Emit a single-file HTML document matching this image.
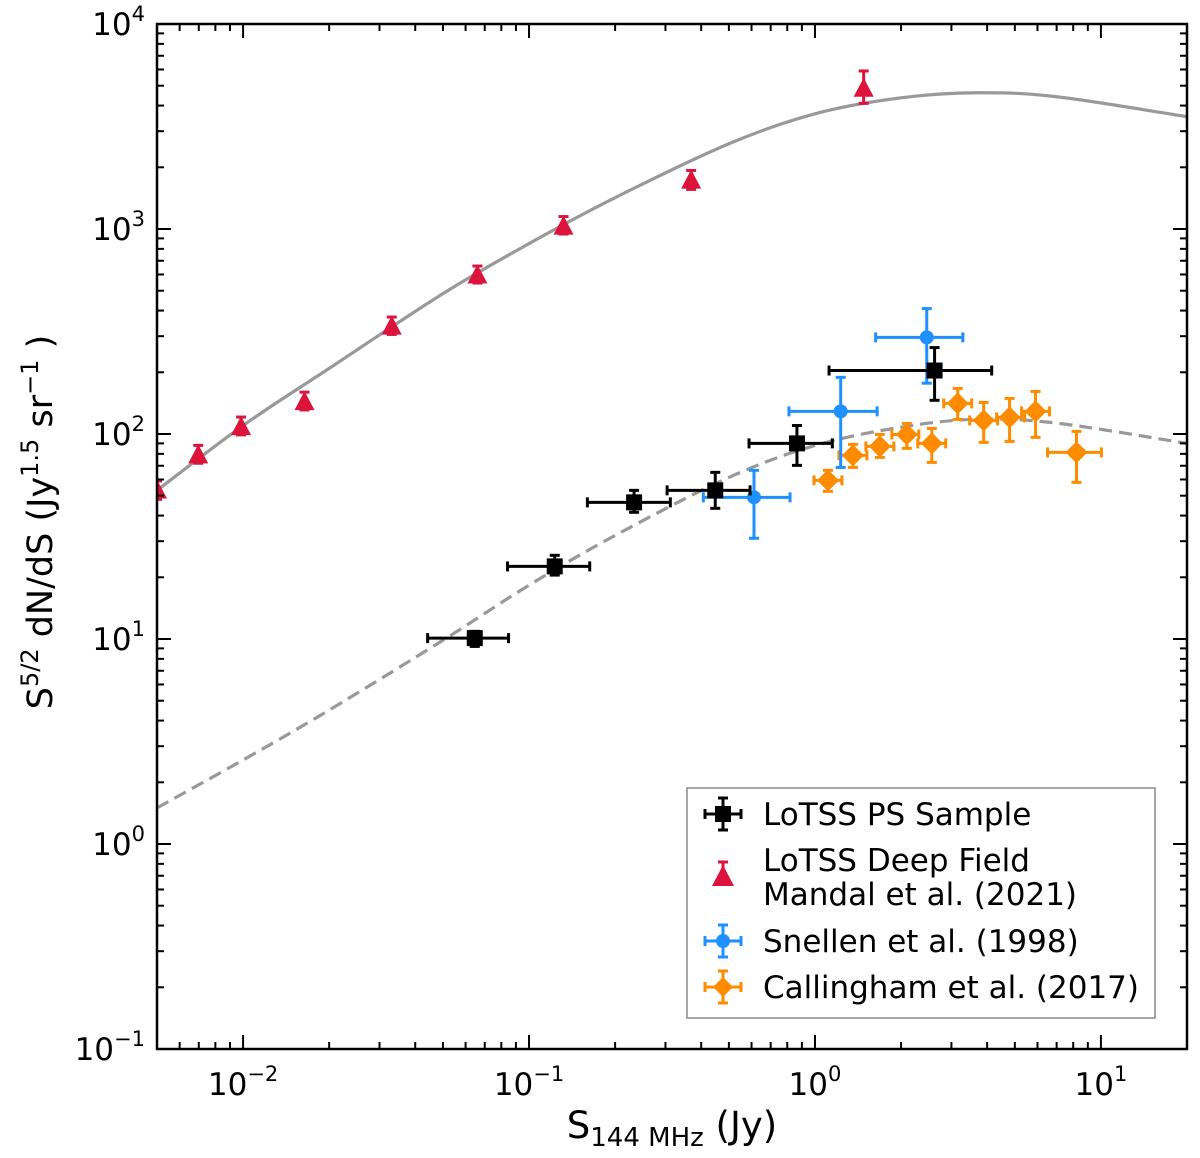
<!DOCTYPE html>
<html><head><meta charset="utf-8">
<style>
html,body{margin:0;padding:0;background:#fff;}
svg{display:block;font-family:"DejaVu Sans","Liberation Sans",sans-serif;}
</style></head>
<body>
<svg id="chart" width="1200" height="1158" viewBox="0 0 1200 1158">
<rect x="0" y="0" width="1200" height="1158" fill="#fff"/>
<g id="plot"></g>
</svg>
<script>
// ---- data ----
const xTickVals = [0.01, 0.1, 1, 10];
const xTickExps = ["−2", "−1", "0", "1"];
const yTickVals = [0.1, 1, 10, 100, 1000, 10000];
const yTickExps = ["−1", "0", "1", "2", "3", "4"];

const solidX = [0.005,0.01,0.02,0.05,0.1,0.2,0.5,1,2,3.7,7,20];
const solidY = [53.1,110,209,484,849,1422,2606,3648,4365,4620,4416,3532];
const dashX = [0.005,0.01,0.02,0.05,0.1,0.2,0.5,1,2,3.7,7,20];
const dashY = [1.50,2.57,4.50,9.86,18.3,32.0,61.4,87.9,108,118,113,90];

const psX = [0.0646,0.123,0.233,0.448,0.865,2.62];
const psY = [10.1,22.6,46.4,53.1,90,204];
const psXlo = [0.0442,0.0841,0.160,0.304,0.588,1.12];
const psXhi = [0.0848,0.163,0.312,0.593,1.15,4.15];
const psYlo = [9.2,20.5,41.5,43.4,70.3,146];
const psYhi = [10.9,25.6,53.1,65,110,264];

const dfX = [0.005,0.00697,0.00984,0.0164,0.0331,0.066,0.132,0.369,1.48];
const dfY = [53,78.7,108,143,334,593,1027,1722,4830];
const dfYlo = [48,72,99,131,306,545,945,1560,4100];
const dfYhi = [59,88,121,160,372,660,1150,1930,5900];

const snX = [0.612,1.23,2.46];
const snY = [49.1,129,296];
const snXlo = [0.407,0.811,1.63];
const snXhi = [0.818,1.65,3.29];
const snYlo = [31,68.7,177];
const snYhi = [66.5,189,409];

const caX = [1.110,1.357,1.686,2.095,2.562,3.156,3.890,4.793,5.907,8.214];
const caY = [59.4,78.7,87.0,99.5,90.0,141,116.5,120.5,128.9,81.3];
const caXlo = [0.992,1.213,1.507,1.857,2.288,2.820,3.475,4.318,5.279,6.506];
const caXhi = [1.242,1.519,1.887,2.307,2.866,3.532,4.352,5.408,6.611,10.04];
const caYlo = [52.5,68.7,76.9,85.1,72.7,117.8,91.0,92.0,96.3,58.1];
const caYhi = [66.5,89.0,99.5,112.6,106.5,166.8,142.6,149.1,161.3,103];

// ---- axes ----
const L=157,R=1187,T=24,B=1049;
const XMIN=Math.log10(0.005),XMAX=Math.log10(20),YMIN=-1,YMAX=4;
function sx(v){return L+(Math.log10(v)-XMIN)/(XMAX-XMIN)*(R-L);}
function sy(v){return B-(Math.log10(v)-YMIN)/(YMAX-YMIN)*(B-T);}
const NS="http://www.w3.org/2000/svg";
const plot=document.getElementById('plot');
function mk(tag,attrs,parent){const e=document.createElementNS(NS,tag);for(const k in attrs)e.setAttribute(k,attrs[k]);(parent||plot).appendChild(e);return e;}

const clip=mk('clipPath',{id:'clipA'});mk('rect',{x:L,y:T,width:R-L,height:B-T},clip);

function smooth(xs,ys){
  const p=xs.map((x,i)=>[sx(x),sy(ys[i])]);
  let d='M'+p[0][0]+','+p[0][1];
  for(let i=0;i<p.length-1;i++){
    const p0=p[Math.max(0,i-1)],p1=p[i],p2=p[i+1],p3=p[Math.min(p.length-1,i+2)];
    const c1=[p1[0]+(p2[0]-p0[0])/6,p1[1]+(p2[1]-p0[1])/6];
    const c2=[p2[0]-(p3[0]-p1[0])/6,p2[1]-(p3[1]-p1[1])/6];
    d+=' C'+c1[0]+','+c1[1]+' '+c2[0]+','+c2[1]+' '+p2[0]+','+p2[1];
  }
  return d;
}
const cg=mk('g',{'clip-path':'url(#clipA)'});
const solid=mk('path',{d:smooth(solidX,solidY),fill:'none',stroke:'#999',"stroke-width":3.2},cg);


const dash=mk('path',{d:smooth(dashX,dashY),fill:'none',stroke:'#999',"stroke-width":3.2,"stroke-dasharray":"13,7"},cg);



function errbar(g,x,y,xlo,xhi,ylo,yhi,col){
  const px=sx(x),py=sy(y);
  if(xlo!=null){mk('line',{x1:sx(xlo),x2:sx(xhi),y1:py,y2:py,stroke:col,"stroke-width":3},g);
    mk('line',{x1:sx(xlo),x2:sx(xlo),y1:py-5,y2:py+5,stroke:col,"stroke-width":3},g);
    mk('line',{x1:sx(xhi),x2:sx(xhi),y1:py-5,y2:py+5,stroke:col,"stroke-width":3},g);}
  mk('line',{x1:px,x2:px,y1:sy(ylo),y2:sy(yhi),stroke:col,"stroke-width":3},g);
  mk('line',{x1:px-5,x2:px+5,y1:sy(ylo),y2:sy(ylo),stroke:col,"stroke-width":3},g);
  mk('line',{x1:px-5,x2:px+5,y1:sy(yhi),y2:sy(yhi),stroke:col,"stroke-width":3},g);
}
function marker(g,shape,px,py,col){
  if(shape==='sq')return mk('rect',{x:px-8,y:py-8,width:16,height:16,fill:col},g);
  if(shape==='tri')return mk('polygon',{points:`${px},${py-11} ${px-10},${py+8} ${px+10},${py+8}`,fill:col},g);
  if(shape==='circ')return mk('circle',{cx:px,cy:py,r:7,fill:col},g);
  return mk('polygon',{points:`${px},${py-11} ${px+11},${py} ${px},${py+11} ${px-11},${py}`,fill:col},g);
}
const gdf=mk('g',{'clip-path':'url(#clipA)'});


dfX.forEach((x,i)=>{errbar(gdf,x,dfY[i],null,null,dfYlo[i],dfYhi[i],'#dc143c');
  const m=marker(gdf,'tri',sx(x),sy(dfY[i]),'#dc143c');
  
  });
const gca=mk('g',{});


caX.forEach((x,i)=>{errbar(gca,x,caY[i],caXlo[i],caXhi[i],caYlo[i],caYhi[i],'#ff8c00');
  const m=marker(gca,'dia',sx(x),sy(caY[i]),'#ff8c00');
  
  });
const gsn=mk('g',{});


snX.forEach((x,i)=>{errbar(gsn,x,snY[i],snXlo[i],snXhi[i],snYlo[i],snYhi[i],'#1e90ff');
  const m=marker(gsn,'circ',sx(x),sy(snY[i]),'#1e90ff');
  
  });
const gps=mk('g',{});


psX.forEach((x,i)=>{errbar(gps,x,psY[i],psXlo[i],psXhi[i],psYlo[i],psYhi[i],'#000');
  const m=marker(gps,'sq',sx(x),sy(psY[i]),'#000');
  
  });

const tg=mk('g',{stroke:'#000',"stroke-width":2});


for(let e=-3;e<=1;e++){for(let m=1;m<=9;m++){const v=m*Math.pow(10,e);if(v<0.005||v>20)continue;const p=sx(v);const len=m===1?14:7;
  mk('line',{x1:p,x2:p,y1:B,y2:B-len},tg);mk('line',{x1:p,x2:p,y1:T,y2:T+len},tg);}}
for(let e=-1;e<=4;e++){for(let m=1;m<=9;m++){const v=m*Math.pow(10,e);if(v>10000)continue;const p=sy(v);const len=m===1?14:7;
  mk('line',{x1:L,x2:L+len,y1:p,y2:p},tg);mk('line',{x1:R,x2:R-len,y1:p,y2:p},tg);}}
const frame=mk('rect',{x:L,y:T,width:R-L,height:B-T,fill:'none',stroke:'#000',"stroke-width":2.5});



xTickVals.forEach((v,i)=>{const t=mk('text',{x:sx(v),y:B+46,"font-size":31,"text-anchor":"middle",fill:'#000'});
  
  
  t.innerHTML='10<tspan dy="-14" font-size="21">'+xTickExps[i]+'</tspan>';});
yTickVals.forEach((v,i)=>{const t=mk('text',{x:L-12,y:sy(v)+11,"font-size":31,"text-anchor":"end",fill:'#000'});
  
  
  t.innerHTML='10<tspan dy="-14" font-size="21">'+yTickExps[i]+'</tspan>';});
</script>
<svg width="1200" height="1158" style="position:absolute;left:0;top:0">
<g font-family="DejaVu Sans, Liberation Sans, sans-serif">
<text x="672" y="1138" font-size="37" text-anchor="middle">S<tspan dy="8" font-size="26">144 MHz</tspan><tspan dy="-8"> (Jy)</tspan></text>
<text transform="translate(52,522) rotate(-90)" font-size="35" text-anchor="middle">S<tspan dy="-14" font-size="24">5/2</tspan><tspan dy="14"> dN/dS (Jy</tspan><tspan dy="-14" font-size="24">1.5</tspan><tspan dy="14"> sr</tspan><tspan dy="-14" font-size="24">−1</tspan><tspan dy="14"> )</tspan></text>
<g>
<rect x="687" y="788" width="468" height="230" fill="#fff" stroke="#888" stroke-width="1.5"/>
<g stroke="#000" stroke-width="3">
<line x1="705" x2="741" y1="814" y2="814"/><line x1="723" x2="723" y1="798" y2="830"/>
<line x1="705" x2="705" y1="809" y2="819"/><line x1="741" x2="741" y1="809" y2="819"/>
<line x1="718" x2="728" y1="798" y2="798"/><line x1="718" x2="728" y1="830" y2="830"/>
<rect x="715" y="806" width="16" height="16" fill="#000" stroke="none"/></g>
<text x="763" y="825" font-size="31">LoTSS PS Sample</text>
<g>
<line x1="723" x2="723" y1="862" y2="880" stroke="#dc143c" stroke-width="3"/>
<line x1="718" x2="728" y1="862" y2="862" stroke="#dc143c" stroke-width="3"/>
<polygon points="723,865 712,886 734,886" fill="#dc143c"/></g>
<text x="763" y="871" font-size="31">LoTSS Deep Field</text>
<text x="763" y="905" font-size="31">Mandal et al. (2021)</text>
<g stroke="#1e90ff" stroke-width="3">
<line x1="705" x2="741" y1="941" y2="941"/><line x1="723" x2="723" y1="925" y2="957"/>
<line x1="705" x2="705" y1="936" y2="946"/><line x1="741" x2="741" y1="936" y2="946"/>
<line x1="718" x2="728" y1="925" y2="925"/><line x1="718" x2="728" y1="957" y2="957"/>
<circle cx="723" cy="941" r="7" fill="#1e90ff" stroke="none"/></g>
<text x="763" y="952" font-size="31">Snellen et al. (1998)</text>
<g stroke="#ff8c00" stroke-width="3">
<line x1="705" x2="741" y1="987" y2="987"/><line x1="723" x2="723" y1="971" y2="1003"/>
<line x1="705" x2="705" y1="982" y2="992"/><line x1="741" x2="741" y1="982" y2="992"/>
<line x1="718" x2="728" y1="971" y2="971"/><line x1="718" x2="728" y1="1003" y2="1003"/>
<polygon points="723,977 733,987 723,997 713,987" fill="#ff8c00" stroke="none"/></g>
<text x="763" y="998" font-size="31">Callingham et al. (2017)</text>
</g>
</g>
</svg>
</body></html>
